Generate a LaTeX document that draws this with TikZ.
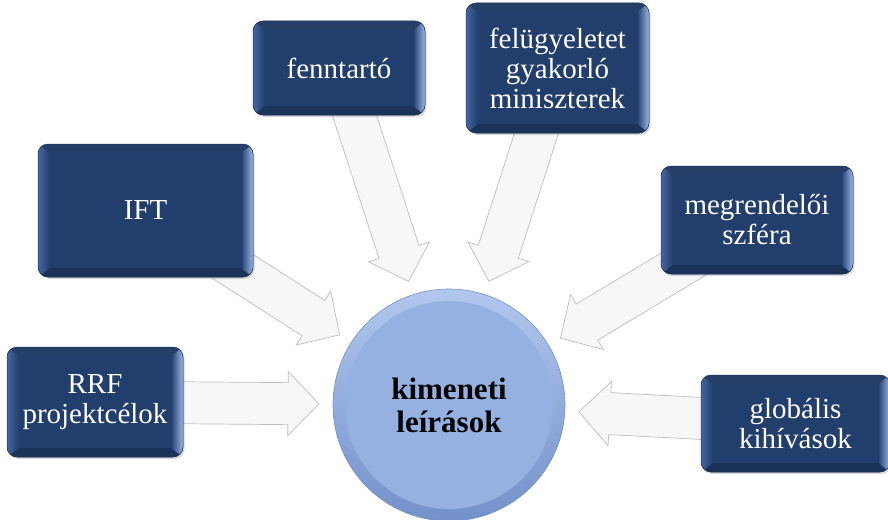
\documentclass[tikz,border=0pt]{standalone}
\usepackage{fontspec}
\setmainfont{Liberation Serif}
\usetikzlibrary{calc,shadows,backgrounds}
\definecolor{navyface}{HTML}{223E6C}
\definecolor{navyedge}{HTML}{1A3158}
\definecolor{bevL}{HTML}{4566A0}
\definecolor{bevR}{HTML}{9AB6E8}
\definecolor{bevT}{HTML}{263F69}
\definecolor{bevB}{HTML}{1B3259}
\definecolor{circtop}{HTML}{B2C7EE}
\definecolor{circbot}{HTML}{7391CA}
\definecolor{circin}{HTML}{95B1E1}
\definecolor{circline}{HTML}{7190C8}
\definecolor{arrline}{HTML}{BEBEBE}
\definecolor{arrfill}{HTML}{F7F7F7}
\newcommand\srcarrow[2]{%
  \coordinate (#1-t) at ($(#2)!130pt!(#1)$);
  \coordinate (#1-h) at ($(#2)!161pt!(#1)$);
  \filldraw[arrowbody] (#1-t)
    -- ($(#1-h)!32pt!90:(#1)$) -- ($(#1-h)!21pt!90:(#1)$)
    -- ($(#1)!21pt!-90:(#2)$) -- ($(#1)!21pt!90:(#2)$)
    -- ($(#1-h)!21pt!-90:(#1)$) -- ($(#1-h)!32pt!-90:(#1)$) -- cycle;
}
\begin{document}
\begin{tikzpicture}[x=1pt,y=-1pt,
  arrowbody/.style={fill=arrfill, draw=arrline, line width=0.7pt, line join=miter},
  bevelbox/.style={rectangle, rounded corners=10pt, fill=bevT, draw=navyedge, line width=0.5pt,
    text=white, font=\fontsize{29}{30}\selectfont, align=center, inner sep=0pt,
    drop shadow={shadow xshift=1.5pt, shadow yshift=-2pt, opacity=0.3},
    path picture={
      \path (path picture bounding box.north west) coordinate (pNW)
            (path picture bounding box.south east) coordinate (pSE);
      \path ($(pNW)+(12,9)$) coordinate (iNW)
            ($(pSE)+(-12,-9)$) coordinate (iSE);
      \fill[bevB, draw=none, sharp corners] (pNW |- pSE) -- (pSE) -- (iSE) -- (iNW |- iSE) -- cycle;
      \shade[left color=bevL, right color=navyface, draw=none, sharp corners]
        (pNW) -- (iNW) -- (iNW |- iSE) -- (pNW |- pSE) -- cycle;
      \shade[left color=navyface, right color=bevR, draw=none, sharp corners]
        (pSE |- pNW) -- (iSE |- iNW) -- (iSE) -- (pSE) -- cycle;
      \fill[navyface, draw=none, sharp corners] (iNW) rectangle (iSE);
    }},
  hub/.style={circle, minimum size=232pt, inner sep=0pt, top color=circtop, bottom color=circbot,
    draw=circline, line width=0.6pt, text=black, align=center,
    font=\bfseries\fontsize{31}{33}\selectfont,
    path picture={\fill[circin, draw=none] (path picture bounding box.center) circle (104pt);}}
]
\useasboundingbox (0,0) rectangle (888,519);
\node[hub] (c) at (449,405) {kimeneti\\leírások};
\node[bevelbox, minimum width=176pt, minimum height=110pt] (rrf) at (95,402) {RRF\\projektcélok};
\node[bevelbox, minimum width=215pt, minimum height=133pt] (ift) at (145.5,210.5) {IFT};
\node[bevelbox, minimum width=172pt, minimum height=94pt] (fen) at (339,68) {fenntartó};
\node[bevelbox, minimum width=183pt, minimum height=130pt] (fel) at (557.5,68) {felügyeletet\\gyakorló\\miniszterek};
\node[bevelbox, minimum width=192pt, minimum height=108pt] (meg) at (757,220) {megrendelői\\szféra};
\node[bevelbox, minimum width=189pt, minimum height=97pt] (glo) at (795.5,423.5) {globális\\kihívások};
\begin{scope}[on background layer]
  \srcarrow{rrf}{c}
  \srcarrow{ift}{c}
  \srcarrow{fen}{c}
  \srcarrow{fel}{c}
  \srcarrow{meg}{c}
  \srcarrow{glo}{c}
\end{scope}
\end{tikzpicture}
\end{document}
